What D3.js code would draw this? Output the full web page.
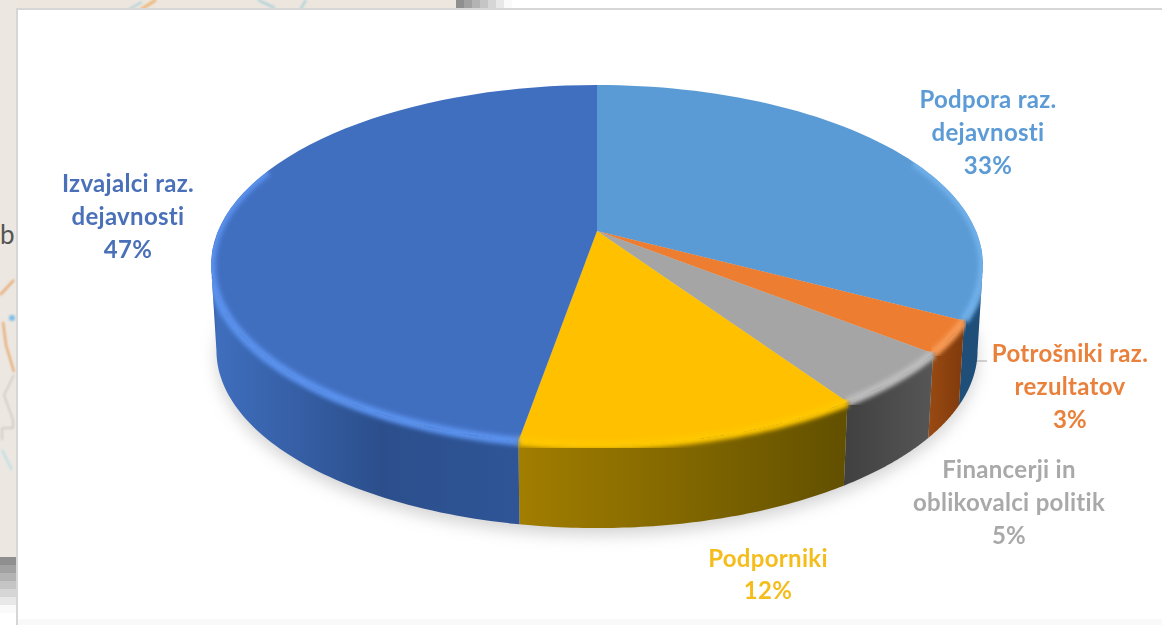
<!DOCTYPE html>
<html><head><meta charset="utf-8">
<script src="https://cdn.jsdelivr.net/npm/d3@7/dist/d3.min.js"></script>
<style>html,body{margin:0;padding:0;background:#fff;overflow:hidden}svg{display:block}
text{font-family:Lato,"Open Sans",sans-serif;font-weight:700}</style></head><body>
<svg id="c" width="1162" height="625"></svg>
<script>
const categories=["Podpora raz. dejavnosti","Potrošniki raz. rezultatov","Financerji in oblikovalci politik","Podporniki","Izvajalci raz. dejavnosti"];
const values=[32.8,2.9,4.9,12.1,47.3];
const labelLines=[["Podpora raz.","dejavnosti"],["Potrošniki raz.","rezultatov"],["Financerji in","oblikovalci politik"],["Podporniki"],["Izvajalci raz.","dejavnosti"]];
const topColors=["#5b9bd5","#ed7d31","#a5a5a5","#ffc000","#416fc0"];
const textColors=["#5b9bd5","#e9803a","#a9a9a9","#f5bd1f","#4a70b8"];
const rimColors=["#6fb0ea","#f79a55","#bdbdbd","#ffc800","#5a92ee"];
const sideStops=[["#1f4e79","#1f4e79"],["#9a4a12","#7f3a0c"],["#404040","#565656"],["#a27e00","#625000"],["#3f6ebd","#2f5597"]];
const labelAnchors=[[988,100],[1070,354],[1009,470],[768,559],[128,184]];

const svg=d3.select("#c");
const defs=svg.append("defs");
defs.append("filter").attr("id","sh").attr("x","-10%").attr("y","-10%").attr("width","120%").attr("height","120%").append("feGaussianBlur").attr("stdDeviation",8);
defs.append("filter").attr("id","rim").attr("x","-5%").attr("y","-5%").attr("width","110%").attr("height","110%").append("feGaussianBlur").attr("stdDeviation",2);
defs.append("filter").attr("id","soft").append("feGaussianBlur").attr("stdDeviation",0.8);
defs.append("filter").attr("id","txt").append("feGaussianBlur").attr("stdDeviation",0.35);

// backdrop
svg.append("rect").attr("width",512).attr("height",10).attr("fill","#ede6df");
svg.append("rect").attr("width",18).attr("height",560).attr("fill","#ece7e1");
const ramp=d3.scaleLinear().domain([0,1]).range(["#8f8f8f","#fafafa"]);
d3.range(7).forEach(i=>{
  svg.append("rect").attr("x",0).attr("y",557+i*8).attr("width",18).attr("height",8).attr("fill",ramp(i/6));
  svg.append("rect").attr("x",456+i*8).attr("y",0).attr("width",8).attr("height",10).attr("fill",ramp(i/6));
});
const bg=svg.append("g").attr("fill","none").attr("filter","url(#soft)");
bg.append("path").attr("d","M0 295L14 280M3 322L6 345L14 372").attr("stroke","#e6a468").attr("stroke-width",2);
bg.append("path").attr("d","M14 375L4 395L13 420V428H2V440").attr("stroke","#b7b2ab").attr("stroke-width",1);
bg.append("path").attr("d","M2 450L12 470").attr("stroke","#bcdde6").attr("stroke-width",2);
bg.append("circle").attr("cx",12).attr("cy",318).attr("r",3).attr("fill","#7cc0ea").attr("stroke","none");
bg.append("path").attr("d","M140 10L156 0").attr("stroke","#eab878").attr("stroke-width",3);
bg.append("path").attr("d","M128 10L142 2M258 0L275 8M300 10L306 0").attr("stroke","#a9cfd6").attr("stroke-width",2);
svg.append("text").attr("x",0).attr("y",244).attr("font-size",26).attr("fill","#555").style("font-weight",400).text("b");
svg.append("rect").attr("x",17).attr("y",9).attr("width",1150).attr("height",620).attr("fill","#fff").attr("stroke","#d6d6d6").attr("stroke-width",2);
svg.append("rect").attr("x",18).attr("y",619).attr("width",1144).attr("height",6).attr("fill","#f9f9f9");

// disc projection
const cx=597,cy=231,R=379,A=173.6,P=0.189,DEPTH=86,SHRINK=0.986;
function proj(a,z){
  const u=Math.sin(a),v=-Math.cos(a),w=1-P*v;
  const x=R*u/w,y=A*v/w,s=z?SHRINK:1;
  return [cx+x*s,cy+y*s+(z?DEPTH:0)];
}
const arcPts=(a0,a1,z)=>d3.range(0,61).map(i=>proj(a0+(a1-a0)*i/60,z));
const line=d3.line();
const pie=d3.pie().sort(null).value(d=>d)(values);
// the wall is only visible between the disc's two silhouette points
const silL=Math.PI-Math.acos(P),silR=Math.PI+Math.acos(P);

// ground shadow
svg.append("path").attr("d",line(arcPts(0,2*Math.PI,true).map(p=>[p[0],p[1]+7]))+"Z")
  .attr("fill","#a8a8a8").attr("opacity",.5).attr("filter","url(#sh)");

// leader lines
svg.append("path").attr("d","M987 361H975L939 423").attr("fill","none").attr("stroke","#a6a6a6").attr("stroke-width",1.2);

// sides
pie.forEach((d,i)=>{
  const a0=Math.max(d.startAngle,silL),a1=Math.min(d.endAngle,silR);
  if(a1<=a0)return;
  const top=arcPts(a0,a1,false),bot=arcPts(a0,a1,true);
  const xs=top.concat(bot).map(p=>p[0]);
  const g=defs.append("linearGradient").attr("id","side"+i).attr("gradientUnits","userSpaceOnUse")
    .attr("x1",d3.min(xs)).attr("x2",d3.max(xs)).attr("y1",0).attr("y2",0);
  const stops=i===4?["#2f5597","#3f6ebd","#2c4f8c","#2f5597"]:sideStops[i];
  const offs=i===4?[0,.02,.55,1]:[0,1];
  stops.forEach((c,k)=>g.append("stop").attr("offset",offs[k]).attr("stop-color",c));
  svg.append("path").attr("d",line(top.concat(bot.reverse()))+"Z").attr("fill",`url(#side${i})`);
});
// tops
const topG=svg.append("g");
topG.selectAll("path").data(pie).join("path")
  .attr("d",d=>line([[cx,cy]].concat(arcPts(d.startAngle,d.endAngle,false)))+"Z")
  .attr("fill",(d,i)=>topColors[i]);
// bevel highlight on the front rim
const clipPath=defs.append("clipPath").attr("id","disc");
clipPath.append("path").attr("d",line(arcPts(0,2*Math.PI,false))+"Z");
clipPath.append("path").attr("d",line(arcPts(silL,silR,false).concat(arcPts(silR,silL,true)))+"Z");
pie.forEach((d,i)=>{
  const a0=Math.max(d.startAngle,Math.PI*0.36),a1=Math.min(d.endAngle,Math.PI*1.62);
  if(a1<=a0)return;
  svg.append("path").attr("d",line(arcPts(a0,a1,false))).attr("fill","none")
    .attr("stroke",rimColors[i]).attr("stroke-width",9).attr("filter","url(#rim)").attr("clip-path","url(#disc)");
});

// labels
values.forEach((v,i)=>{
  const lines=labelLines[i].concat([Math.round(v)+"%"]);
  const step=i===3?32:33;
  const t=svg.append("text").attr("text-anchor","middle").attr("font-size",24).attr("letter-spacing",.3).attr("fill",textColors[i]).attr("filter","url(#txt)");
  lines.forEach((s,k)=>t.append("tspan").attr("x",labelAnchors[i][0]).attr("y",labelAnchors[i][1]+8+k*step).text(s));
});
</script></body></html>
